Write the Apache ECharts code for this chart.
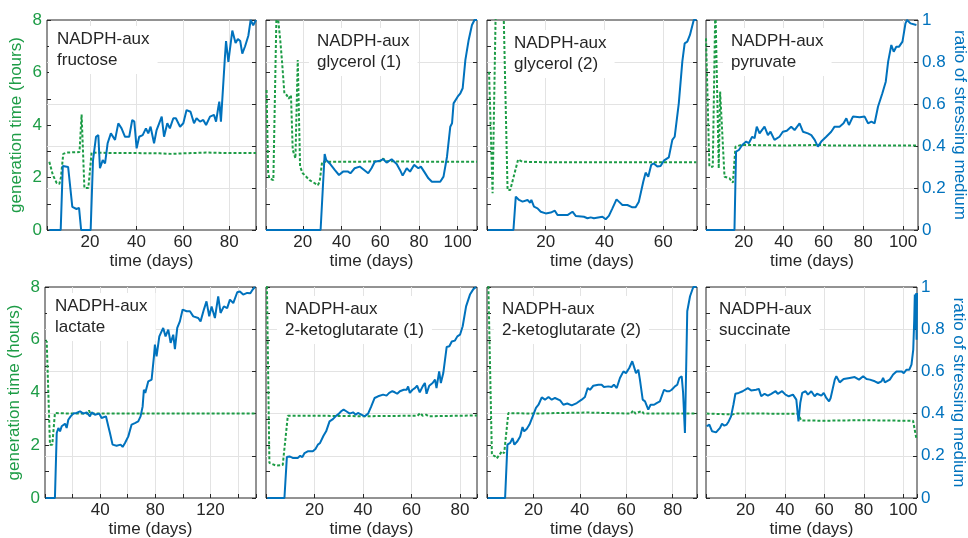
<!DOCTYPE html>
<html>
<head>
<meta charset="utf-8">
<title>NADPH-aux evolution</title>
<script src="https://cdn.jsdelivr.net/npm/echarts@6/dist/echarts.min.js"></script>
<style>
  html, body { margin: 0; padding: 0; background: #fff; }
  #chart { width: 968px; height: 538px; }
</style>
</head>
<body>
<div id="chart"></div>
<script>
// ratio of stressing medium (right axis) and generation time in hours (left axis), [day, value]
const fructoseRatio = [[2.5,0],[7.4,0],[8.3,0.305],[10.6,0.3],[12.4,0.11],[14.2,0.1],[15.3,0.105],[16.2,0],[20.3,0],[21.3,0.33],[22.6,0.444],[23.6,0.452],[24.3,0.294],[25.5,0.333],[26.5,0.317],[27.6,0.413],[29,0.46],[30.8,0.429],[32.2,0.508],[33.6,0.484],[35.1,0.444],[36.9,0.444],[38.2,0.524],[39.1,0.516],[40.1,0.389],[41.2,0.444],[42.7,0.452],[44.1,0.484],[45.1,0.46],[46.1,0.492],[47.6,0.413],[48.7,0.476],[50.9,0.54],[51.9,0.444],[53.3,0.508],[54.4,0.484],[55.9,0.532],[57,0.532],[58.8,0.492],[60.2,0.508],[61.6,0.571],[63.3,0.563],[64.8,0.508],[65.9,0.532],[67.4,0.516],[68.8,0.524],[70,0.5],[71.7,0.54],[73.4,0.548],[74.3,0.516],[75.3,0.587],[75.7,0.611],[76.4,0.516],[77,0.52],[78.1,0.82],[78.6,0.9],[79.6,0.8],[81.3,0.95],[82.7,0.89],[83.7,0.91],[84.7,0.9],[85.6,0.84],[86.8,0.875],[88.2,0.925],[89.2,1.0],[90.3,0.975],[91.5,1.0]];
const fructoseGen = [[2.5,2.6],[4,2.1],[5.6,1.8],[6.8,1.75],[7.5,2.0],[8.5,2.9],[10,2.95],[15.5,2.97],[16.4,4.4],[17.6,1.6],[19.3,1.6],[20.7,2.95],[30,2.93],[40,2.93],[50,2.92],[55,2.9],[60,2.92],[70,2.95],[80,2.93],[91.5,2.93]];

const glycerol1Ratio = [[1,0],[29.2,0],[31.3,0.362],[32.1,0.333],[33.9,0.317],[36.5,0.286],[38.7,0.262],[40.8,0.278],[43.4,0.278],[44.6,0.27],[46.8,0.294],[49.4,0.302],[53.8,0.27],[55.5,0.294],[57.2,0.325],[59.8,0.33],[61.6,0.337],[63.3,0.321],[65.9,0.337],[68.5,0.314],[70.2,0.286],[71.6,0.259],[73.7,0.294],[75.4,0.278],[77.5,0.31],[79.7,0.294],[81,0.302],[82.7,0.278],[84.9,0.246],[86.7,0.23],[91,0.23],[92.7,0.254],[94.5,0.349],[96.2,0.492],[97.1,0.508],[97.9,0.603],[98.8,0.595],[100,0.635],[101.4,0.651],[102.6,0.675],[104,0.81],[105.7,0.905],[107.4,0.976],[108.7,1.0],[110,1.0]];
const glycerol1Gen = [[1.3,5.33],[2.1,2.2],[2.7,1.97],[4.8,1.9],[6.5,8.6],[7.3,8.6],[8.4,7.2],[9.3,6.4],[10.5,5.2],[11.7,5.14],[12.7,5.0],[13.9,5.14],[14.8,3.05],[16.2,2.73],[17.4,6.48],[18.6,2.41],[20,2.16],[23.5,1.9],[27.8,1.71],[28.7,1.84],[30,2.6],[40,2.6],[50,2.6],[60,2.62],[61.6,2.72],[63,2.62],[80,2.6],[110,2.6]];

const glycerol2Ratio = [[0.3,0],[9,0],[9.8,0.159],[10.9,0.143],[12.1,0.135],[13.8,0.143],[14.7,0.13],[15.1,0.143],[16,0.111],[17.2,0.103],[18.3,0.087],[20,0.079],[21.7,0.083],[23.1,0.092],[24,0.071],[27.4,0.071],[29.1,0.087],[30.2,0.067],[33,0.063],[34.2,0.056],[35.3,0.06],[36.4,0.056],[39.3,0.063],[40.4,0.051],[41.5,0.067],[42.7,0.103],[44.1,0.146],[44.9,0.135],[46.1,0.119],[47.8,0.119],[49.5,0.108],[50.6,0.108],[51.7,0.135],[53.2,0.23],[54,0.273],[54.9,0.254],[55.9,0.31],[56.8,0.317],[58,0.302],[59.1,0.305],[60.2,0.33],[61.9,0.346],[63.1,0.429],[63.9,0.444],[65.3,0.603],[66.5,0.802],[67.3,0.889],[68.2,0.897],[69.1,0.929],[70.4,1.0],[71.3,1.0]];
const glycerol2Gen = [[0.7,6.03],[1.9,1.4],[3,8.6],[5.6,8.6],[7,1.52],[7.9,1.52],[10.6,2.69],[12.1,2.6],[20,2.58],[40,2.58],[60,2.58],[71.3,2.58]];

const pyruvateRatio = [[1,0],[15.3,0],[16.1,0.373],[17.5,0.381],[19.2,0.405],[21.2,0.421],[22.5,0.413],[24.2,0.444],[25.4,0.437],[26.5,0.492],[27.9,0.46],[30.4,0.492],[32.1,0.452],[33.4,0.468],[35.4,0.429],[37.9,0.444],[39.6,0.468],[41.6,0.473],[43.8,0.492],[45.5,0.476],[48,0.508],[49.7,0.468],[52.2,0.46],[53.9,0.452],[55.6,0.429],[57.2,0.397],[58.9,0.421],[61.4,0.444],[63.9,0.468],[65.6,0.492],[68.1,0.492],[70.1,0.508],[71.5,0.532],[72.8,0.5],[74.8,0.54],[78.2,0.537],[80.7,0.54],[82.4,0.508],[84.1,0.516],[85.7,0.508],[87.4,0.587],[89.6,0.651],[91.3,0.706],[92.5,0.802],[94.1,0.881],[95.3,0.849],[96.6,0.873],[98,0.873],[99.7,0.897],[101.2,0.984],[102,1.0],[103.7,0.984],[106.7,0.976]];
const pyruvateGen = [[1,7.3],[2.7,2.41],[4.4,2.41],[5.7,8.6],[6.6,8.6],[7.4,2.35],[8.1,5.27],[9.1,5.2],[10.3,2.03],[12.8,1.97],[14.5,1.8],[15.8,3.17],[18.7,3.24],[40,3.22],[60,3.24],[61,3.3],[62,3.22],[80,3.22],[107,3.22]];

const lactateRatio = [[0.5,0],[7.2,0],[8.5,0.308],[9.7,0.332],[10.9,0.316],[12.1,0.34],[14.5,0.352],[15.7,0.332],[16.9,0.371],[18.6,0.387],[20.5,0.4],[22.9,0.403],[25.4,0.411],[27.8,0.4],[30.2,0.406],[32.6,0.387],[33.8,0.406],[36.2,0.395],[39.4,0.4],[41,0.379],[44.2,0.387],[45.9,0.34],[47.1,0.308],[49,0.253],[51.9,0.248],[54.8,0.253],[56.3,0.242],[58,0.261],[60.4,0.292],[62.8,0.348],[65.2,0.355],[67.6,0.363],[69.3,0.387],[70.8,0.434],[71.7,0.513],[72.7,0.498],[74.9,0.553],[77.3,0.561],[79,0.671],[79.7,0.727],[80.9,0.671],[82.9,0.766],[85.7,0.806],[87.4,0.766],[89.4,0.798],[91.1,0.735],[93,0.774],[94.2,0.706],[95.9,0.806],[97.8,0.837],[99.8,0.893],[102.7,0.885],[105.1,0.885],[107.5,0.861],[111.1,0.853],[112.8,0.837],[115.2,0.893],[117.1,0.932],[119.1,0.861],[120.8,0.908],[123.2,0.853],[125.6,0.956],[127.3,0.877],[129.7,0.908],[132.1,0.9],[134.1,0.94],[136.5,0.924],[139.4,0.975],[141.3,0.979],[143.7,0.964],[146.6,0.972],[148.9,0.97],[150.5,0.987],[152.2,1.0]];
const lactateGen = [[1.2,6.0],[3.6,2.02],[5.3,2.02],[7.2,3.22],[20,3.2],[31,3.2],[31.9,3.32],[33,3.2],[60,3.2],[98,3.2],[99,3.27],[100,3.2],[153,3.2]];

const keto1Ratio = [[0.5,0],[7.6,0],[8.6,0.194],[9.7,0.197],[11,0.19],[11.7,0.197],[13.1,0.19],[14.1,0.2],[15,0.194],[15.9,0.213],[17.2,0.221],[19.3,0.221],[20.4,0.232],[21.4,0.253],[22.3,0.261],[23.7,0.295],[24.8,0.316],[26.2,0.363],[27.6,0.374],[28.7,0.387],[30.1,0.4],[31,0.411],[32,0.419],[33.1,0.411],[34.5,0.4],[35.9,0.406],[37,0.395],[37.9,0.403],[39.3,0.395],[40.7,0.387],[42.1,0.4],[43.4,0.434],[44.8,0.474],[46.2,0.482],[48.3,0.49],[49.7,0.485],[50.8,0.498],[52.1,0.506],[53.1,0.501],[54.1,0.494],[55.2,0.506],[56.8,0.513],[58,0.513],[58.6,0.529],[59.3,0.498],[60.4,0.513],[61.4,0.521],[62.3,0.532],[63.4,0.501],[64.6,0.529],[65.5,0.545],[66.2,0.494],[67.3,0.532],[68.7,0.545],[69.7,0.561],[70.3,0.521],[71.4,0.6],[72.1,0.545],[73.1,0.592],[74.5,0.716],[75.6,0.719],[76.6,0.742],[77.9,0.746],[78.9,0.766],[80,0.774],[81.1,0.814],[82.5,0.908],[84.1,0.964],[85.5,0.99],[86.6,1.0]];
const keto1Gen = [[0.3,8.6],[1.4,1.33],[4.1,1.23],[6.9,1.25],[9,3.12],[20,3.12],[40,3.1],[62.5,3.12],[63.6,3.22],[64.6,3.12],[66,3.16],[67,3.1],[87,3.13]];

const keto2Ratio = [[0.3,0],[7.8,0],[8.8,0.253],[10,0.261],[11,0.284],[11.8,0.253],[13.1,0.269],[14.3,0.292],[15.3,0.336],[16,0.316],[17.1,0.327],[18.3,0.348],[20,0.395],[21.1,0.427],[22.2,0.442],[23.6,0.477],[25,0.466],[26.5,0.479],[27.9,0.466],[29.3,0.474],[31.5,0.463],[32.9,0.442],[34.6,0.448],[36.5,0.439],[38.7,0.45],[40.8,0.466],[42.2,0.479],[43.4,0.521],[44.4,0.513],[45.8,0.532],[48,0.537],[49.4,0.537],[50.4,0.526],[52.3,0.529],[53.7,0.526],[54.7,0.537],[55.9,0.521],[57.3,0.569],[58.8,0.6],[59.9,0.592],[61.3,0.616],[62.6,0.648],[63.3,0.624],[64.2,0.592],[65.2,0.608],[65.9,0.561],[67.1,0.466],[68.1,0.458],[69.5,0.419],[70.5,0.442],[72,0.442],[73.1,0.45],[74.5,0.458],[75.3,0.466],[76.3,0.513],[77.4,0.506],[78.6,0.506],[79.6,0.513],[81,0.529],[82,0.537],[82.9,0.569],[83.9,0.577],[84.5,0.5],[85.3,0.308],[86.3,0.885],[87.5,0.956],[88.9,1.0],[90.3,1.0]];
const keto2Gen = [[0.3,8.6],[0.6,8.0],[2.1,1.64],[3.5,1.58],[4.2,1.5],[5.4,1.64],[6.4,1.77],[7.4,1.7],[9.2,3.22],[20,3.2],[30,3.22],[43,3.24],[62,3.2],[63,3.32],[64,3.2],[66.6,3.3],[67.6,3.2],[90.5,3.2]];

const succinateRatio = [[0.3,0.34],[1.7,0.348],[3.1,0.316],[5.1,0.311],[5.9,0.308],[7.1,0.332],[8.1,0.352],[9.3,0.343],[10.5,0.348],[11.5,0.363],[12.7,0.387],[13.9,0.442],[14.9,0.494],[16.6,0.498],[18.6,0.506],[21.2,0.521],[22.9,0.51],[25.4,0.513],[26.8,0.517],[28,0.482],[29.7,0.494],[31.4,0.485],[33.1,0.494],[35.3,0.506],[36.4,0.494],[38.6,0.506],[40.3,0.49],[42,0.482],[44.1,0.49],[45.8,0.466],[46.9,0.363],[47.8,0.45],[48.8,0.498],[50.5,0.506],[51.7,0.49],[53.4,0.506],[55.1,0.482],[56.3,0.494],[58.5,0.485],[59.7,0.498],[61,0.474],[62.4,0.458],[63.2,0.474],[65.3,0.561],[66.1,0.577],[67.8,0.548],[69.8,0.564],[72.9,0.569],[75.4,0.573],[77.6,0.561],[79.7,0.577],[81.4,0.564],[83.1,0.561],[85.6,0.553],[87.3,0.545],[89,0.553],[89.8,0.569],[90.7,0.548],[93.2,0.561],[94.9,0.585],[96.6,0.6],[99.2,0.6],[100.3,0.592],[101.7,0.608],[103.1,0.608],[104.2,0.632],[105.1,0.703],[105.6,0.845],[105.9,0.964],[106.2,0.8],[106.5,0.97],[106.8,0.75],[107,0.972]];
const succinateGen = [[0.3,3.2],[13.6,3.17],[15,3.2],[30,3.2],[46.6,3.19],[48.3,2.94],[60,2.93],[80,2.95],[100,2.93],[105,2.93],[105.9,2.9],[106.8,2.21]];

const panelTitles = ['NADPH-aux\nfructose', 'NADPH-aux\nglycerol (1)', 'NADPH-aux\nglycerol (2)', 'NADPH-aux\npyruvate',
  'NADPH-aux\nlactate', 'NADPH-aux\n2-ketoglutarate (1)', 'NADPH-aux\n2-ketoglutarate (2)', 'NADPH-aux\nsuccinate'];
const ratioSeries = [fructoseRatio, glycerol1Ratio, glycerol2Ratio, pyruvateRatio, lactateRatio, keto1Ratio, keto2Ratio, succinateRatio];
const genSeries = [fructoseGen, glycerol1Gen, glycerol2Gen, pyruvateGen, lactateGen, keto1Gen, keto2Gen, succinateGen];
// x range of each panel (days) and the step between labelled ticks
const xMins = [1.5, 1, 0, 1, 0, 0, 0, 0];
const xMaxs = [91.5, 110, 71.5, 107.5, 153, 87, 90.5, 107];
const labelSteps = [20, 20, 20, 20, 40, 20, 20, 20];

// layout
const boxes = [
  [47, 20, 209, 210], [266, 20, 211, 210], [487, 20, 210, 210], [706, 20, 212, 210],
  [45, 287, 211, 211], [266, 287, 211, 211], [487, 287, 210, 211], [706, 287, 211, 211]
];
const textPos = [[58, 33], [318, 35], [515, 37], [732, 35], [56, 300], [286, 303], [503, 303], [720, 303]];

const FONT = 'Liberation Sans, Arial, Helvetica, sans-serif';
const INK = '#262626';
const GREEN = '#1d9c46';
const BLUE = '#0072BD';
const GRID = '#e3e3e3';

const grids = [], xAxes = [], yAxes = [], series = [], titles = [];

boxes.forEach((b, i) => {
  const firstCol = i % 4 === 0;
  const lastCol = i % 4 === 3;
  grids.push({
    left: b[0], top: b[1], width: b[2], height: b[3],
    show: true, borderColor: INK, borderWidth: 1, backgroundColor: 'transparent',
    outerBoundsMode: 'none'
  });
  const step = labelSteps[i];
  const x = {
    type: 'value', gridIndex: i, min: xMins[i], max: xMaxs[i],
    axisLine: { show: false },
    axisTick: { inside: true, length: 4, lineStyle: { color: INK } },
    axisLabel: {
      color: INK, fontSize: 17, fontFamily: FONT, margin: 4,
      formatter: v => (v > 0 && Math.abs(v % step) < 1e-6) ? String(v) : ''
    },
    splitLine: { show: true, showMinLine: false, showMaxLine: false, lineStyle: { color: GRID, width: 1 } },
    name: 'time (days)', nameLocation: 'middle', nameGap: 23, nameMoveOverlap: false,
    nameTextStyle: { color: INK, fontSize: 17, fontFamily: FONT }
  };
  if (xMins[i] === 0) x.interval = 20; else x.splitNumber = 5;
  xAxes.push(x);

  yAxes.push({
    type: 'value', gridIndex: i, position: 'left', min: 0, max: 8, interval: 1,
    axisLine: { show: false },
    axisTick: { inside: true, length: 4, lineStyle: { color: INK } },
    axisLabel: {
      show: firstCol, color: GREEN, fontSize: 17, fontFamily: FONT, margin: 5,
      formatter: v => (v % 2 === 0 ? String(v) : '')
    },
    splitLine: { show: false },
    name: firstCol ? 'generation time (hours)' : '', nameLocation: 'middle', nameGap: 22,
    nameMoveOverlap: false,
    nameTextStyle: { color: GREEN, fontSize: 17, fontFamily: FONT }
  });
  yAxes.push({
    type: 'value', gridIndex: i, position: 'right', min: 0, max: 1, interval: 0.2,
    axisLine: { show: false },
    axisTick: { inside: true, length: 4, lineStyle: { color: INK } },
    axisLabel: {
      show: lastCol, color: BLUE, fontSize: 17, fontFamily: FONT, margin: 4,
      formatter: v => String(Math.round(v * 10) / 10)
    },
    splitLine: { show: true, showMinLine: false, showMaxLine: false, lineStyle: { color: GRID, width: 1 } },
    name: lastCol ? 'ratio of stressing medium' : '', nameLocation: 'middle', nameGap: 33, nameRotate: -90,
    nameMoveOverlap: false,
    nameTextStyle: { color: BLUE, fontSize: 17, fontFamily: FONT }
  });

  series.push({
    type: 'line', xAxisIndex: i, yAxisIndex: 2 * i, data: genSeries[i],
    showSymbol: false, symbol: 'none', clip: true, z: 2,
    lineStyle: { color: GREEN, width: 2, type: [3, 2] }
  });
  series.push({
    type: 'line', xAxisIndex: i, yAxisIndex: 2 * i + 1, data: ratioSeries[i],
    showSymbol: false, symbol: 'none', clip: true, z: 3,
    lineStyle: { color: BLUE, width: 2 }
  });

  titles.push({
    text: panelTitles[i], left: textPos[i][0] - 9, top: textPos[i][1] - 7,
    padding: [3, 8], backgroundColor: '#fff',
    textStyle: { color: INK, fontSize: 17, lineHeight: 21, fontWeight: 'normal', fontFamily: FONT }
  });
});

const chart = echarts.init(document.getElementById('chart'));
chart.setOption({
  animation: false,
  backgroundColor: '#fff',
  textStyle: { fontFamily: FONT },
  title: titles,
  grid: grids,
  xAxis: xAxes,
  yAxis: yAxes,
  series: series
});
</script>
</body>
</html>
